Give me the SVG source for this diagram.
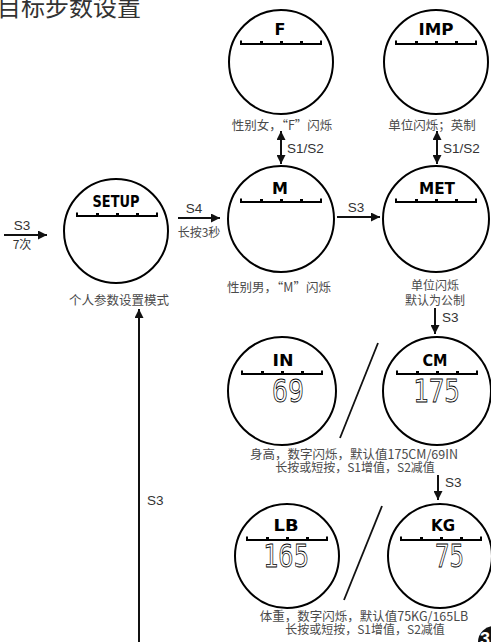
<svg xmlns="http://www.w3.org/2000/svg" width="491" height="642" viewBox="0 0 491 642">
<style>
.c{fill:#fff;stroke:#000;stroke-width:2}
.bar{fill:none;stroke:#000;stroke-width:2}
.lbl{font-family:"DejaVu Sans","Liberation Sans",sans-serif;font-weight:bold;font-size:16px;fill:#000;text-anchor:middle}
.dig{font-family:"DejaVu Sans Mono","Liberation Mono",monospace;font-size:32px;fill:#fff;stroke:#000;stroke-width:0.8}
.cap{font-family:"Noto Sans CJK SC",sans-serif;font-size:12px;fill:#4a4a4a;text-anchor:middle}
.k{font-family:"Liberation Sans","Noto Sans CJK SC",sans-serif;font-size:13.5px;fill:#333}
.ln{stroke:#111;stroke-width:2;fill:none}
.sl{stroke:#111;stroke-width:1.8;fill:none}
</style>
<defs>
<marker id="ah" viewBox="0 0 10 10" refX="10" refY="5" markerWidth="4.5" markerHeight="4.5" orient="auto-start-reverse" markerUnits="strokeWidth">
<path d="M0,0 L10,5 L0,10 z" fill="#111"/>
</marker>
<g id="bar">
<path class="bar" d="M-40,-3.5 V0 H40 V-3.5"/>
<rect x="-21" y="-3" width="3" height="2.5" fill="#000"/>
<rect x="-1" y="-3" width="3" height="2.5" fill="#000"/>
<rect x="19" y="-3" width="3" height="2.5" fill="#000"/>
</g>
</defs>

<text x="-3" y="16" style="font-family:'Noto Sans CJK SC',sans-serif;font-size:24px;fill:#333">目标步数设置</text>

<g id="connectors">
<line class="ln" x1="4" y1="235" x2="47" y2="235" marker-end="url(#ah)"/>
<line class="ln" x1="178" y1="218" x2="220" y2="218" marker-end="url(#ah)"/>
<line class="ln" x1="337" y1="217" x2="380" y2="217" marker-end="url(#ah)"/>
<line class="ln" x1="281" y1="131" x2="281" y2="164" marker-start="url(#ah)" marker-end="url(#ah)"/>
<line class="ln" x1="437" y1="131" x2="437" y2="164" marker-start="url(#ah)" marker-end="url(#ah)"/>
<line class="ln" x1="435" y1="308" x2="435" y2="334" marker-end="url(#ah)"/>
<line class="ln" x1="438" y1="475" x2="438" y2="500" marker-end="url(#ah)"/>
<line class="ln" x1="139" y1="645" x2="139" y2="309" marker-end="url(#ah)"/>
<text class="k" x="22" y="230" text-anchor="middle">S3</text>
<text class="k" x="22" y="249" text-anchor="middle" style="font-family:'Noto Sans CJK SC',sans-serif;font-size:12px">7次</text>
<text class="k" x="194" y="213" text-anchor="middle">S4</text>
<text class="cap" x="199" y="237">长按3秒</text>
<text class="k" x="356" y="212" text-anchor="middle">S3</text>
<text class="k" x="287" y="153">S1/S2</text>
<text class="k" x="443" y="153">S1/S2</text>
<text class="k" x="442" y="322">S3</text>
<text class="k" x="445" y="487">S3</text>
<text class="k" x="147" y="505">S3</text>
<line class="sl" x1="378" y1="343" x2="340" y2="438"/>
<line class="sl" x1="382" y1="506" x2="344" y2="600"/>
</g>

<g id="node-F">
<circle class="c" cx="281" cy="62" r="52"/>
<text class="lbl" x="280" y="35">F</text>
<use href="#bar" x="281" y="44"/>
<text class="cap" x="282" y="129.5" style="font-size:12.5px">性别女，“F”闪烁</text>
</g>

<g id="node-IMP">
<circle class="c" cx="436" cy="62" r="52"/>
<text class="lbl" x="436" y="35" textLength="35" lengthAdjust="spacingAndGlyphs">IMP</text>
<use href="#bar" x="436" y="44"/>
<text class="cap" x="432" y="129.5" style="font-size:12.5px">单位闪烁；英制</text>
</g>

<g id="node-SETUP">
<circle class="c" cx="116" cy="231" r="52"/>
<text class="lbl" x="116" y="207" textLength="47" lengthAdjust="spacingAndGlyphs">SETUP</text>
<use href="#bar" x="117" y="216"/>
<text class="cap" x="119" y="304.5" style="font-size:12.5px">个人参数设置模式</text>
</g>

<g id="node-M">
<circle class="c" cx="281" cy="219" r="53"/>
<text class="lbl" x="280" y="194">M</text>
<use href="#bar" x="281" y="202"/>
<text class="cap" x="279" y="291.5" style="font-size:12.5px">性别男，“M”闪烁</text>
</g>

<g id="node-MET">
<circle class="c" cx="436" cy="219" r="53"/>
<text class="lbl" x="437" y="194" textLength="36" lengthAdjust="spacingAndGlyphs">MET</text>
<use href="#bar" x="436" y="202"/>
<text class="cap" x="435" y="290">单位闪烁</text>
<text class="cap" x="435" y="304.5">默认为公制</text>
</g>

<g id="node-IN">
<circle class="c" cx="282" cy="391" r="54"/>
<text class="lbl" x="283" y="366" textLength="21" lengthAdjust="spacingAndGlyphs">IN</text>
<use href="#bar" x="282" y="374"/>
<text class="dig" x="272" y="402" textLength="32" lengthAdjust="spacingAndGlyphs">69</text>
</g>

<g id="node-CM">
<circle class="c" cx="437" cy="391" r="54"/>
<text class="lbl" x="435" y="366" textLength="25" lengthAdjust="spacingAndGlyphs">CM</text>
<use href="#bar" x="437" y="374"/>
<text class="dig" x="413" y="402" textLength="47" lengthAdjust="spacingAndGlyphs">175</text>
</g>
<text class="cap" x="354" y="459" style="font-size:12.5px">身高，数字闪烁，默认值175CM/69IN</text>
<text class="cap" x="355" y="472">长按或短按，S1增值，S2减值</text>

<g id="node-LB">
<circle class="c" cx="287" cy="556" r="52"/>
<text class="lbl" x="286" y="531" textLength="25" lengthAdjust="spacingAndGlyphs">LB</text>
<use href="#bar" x="287" y="540"/>
<text class="dig" x="263" y="567" textLength="46" lengthAdjust="spacingAndGlyphs">165</text>
</g>

<g id="node-KG">
<circle class="c" cx="440" cy="556" r="52"/>
<text class="lbl" x="443" y="531" textLength="24" lengthAdjust="spacingAndGlyphs">KG</text>
<use href="#bar" x="441" y="540"/>
<text class="dig" x="435" y="567" textLength="29" lengthAdjust="spacingAndGlyphs">75</text>
</g>
<text class="cap" x="364" y="621" style="font-size:12.5px">体重，数字闪烁，默认值75KG/165LB</text>
<text class="cap" x="365" y="634">长按或短按，S1增值，S2减值</text>

<g id="page-badge">
<circle cx="494" cy="642" r="16" fill="#111"/>
<text x="480" y="645" style="font-family:'Liberation Sans',sans-serif;font-weight:bold;font-size:18px;fill:#fff">3</text>
</g>
</svg>
